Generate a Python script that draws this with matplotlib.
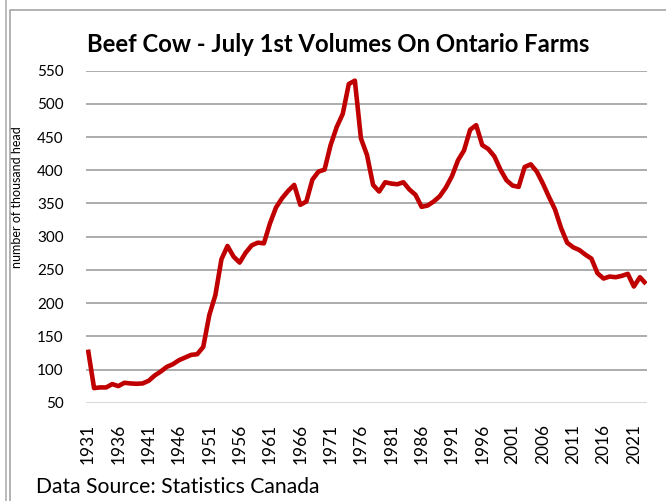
import matplotlib
matplotlib.use("Agg")
import matplotlib.pyplot as plt
from matplotlib.lines import Line2D

plt.rcParams["font.family"] = ["Lato", "DejaVu Sans"]

# July 1st beef cow inventory, Ontario (thousand head)
years = list(range(1931, 2024))
head = [130, 72, 73, 73, 78, 75, 80, 79, 78.5, 79,
        83, 91, 97, 104, 108, 114, 118, 122, 123, 134,
        182, 212, 266, 286, 270, 261, 276, 287, 291, 290,
        320, 344, 358, 369, 378, 348, 353, 386, 398, 401,
        438, 465, 485, 530, 535, 448, 423, 378, 368, 382,
        380, 379, 382, 371, 363, 345, 347, 353, 361, 374,
        391, 415, 430, 461, 468, 438, 432, 421, 401, 385,
        377, 375, 405, 409, 398, 380, 360, 341, 313, 291,
        284, 280, 273, 267, 245, 237, 240, 239, 241, 244,
        225, 239, 229]
x_labels = [str(y) for y in range(1931, 2022, 5)]
y_ticks = list(range(50, 551, 50))

W, H = 666, 501
fig = plt.figure(figsize=(W / 100, H / 100), dpi=100)

# plot area in pixels: x 86..647, y 70.7..402.7
ax = fig.add_axes([86 / W, 1 - 402.7 / H, (647 - 86) / W, (402.7 - 70.7) / H])
ax.plot(years, head, color="#c00000", lw=3.3, solid_joinstyle="round",
        solid_capstyle="butt", zorder=3)

ax.set_ylim(50, 550)
ax.set_xlim(1931 - 2 / 6.065, 2023 + 1 / 6.065)
ax.set_yticks(y_ticks)
ax.set_xticks(list(range(1931, 2022, 5)))
ax.set_xticklabels(x_labels, rotation=90, fontsize=12.5)
ax.tick_params(axis="y", length=0, pad=16, labelsize=11)
ax.tick_params(axis="x", length=0, pad=15)
for s in ax.spines.values():
    s.set_visible(False)
ax.yaxis.grid(True, color="#a6a6a6", lw=1.3, zorder=1)
ax.axhline(50, color="#d9d9d9", lw=1.5, zorder=2)
ax.set_axisbelow(True)
ax.set_ylabel("number of thousand head", fontsize=9)
ax.yaxis.set_label_coords((23 - 86) / 561, (402.7 - 197) / 332)

fig.text(338 / W, 1 - 45 / H, "Beef Cow - July 1st Volumes On Ontario Farms",
         ha="center", va="center", fontsize=17.2, fontweight="bold")
fig.text(36 / W, 1 - 487 / H, "Data Source: Statistics Canada",
         ha="left", va="center", fontsize=15.2)

# worksheet / chart-area borders
fig.add_artist(Line2D([6 / W, 6 / W], [0, 1], color="#b0b0b0", lw=1.2))
fig.add_artist(Line2D([9.5 / W, 9.5 / W, 1], [0, 1 - 10 / H, 1 - 10 / H],
                      color="#a6a6a6", lw=1.2))

fig.savefig("out.png", dpi=100)
